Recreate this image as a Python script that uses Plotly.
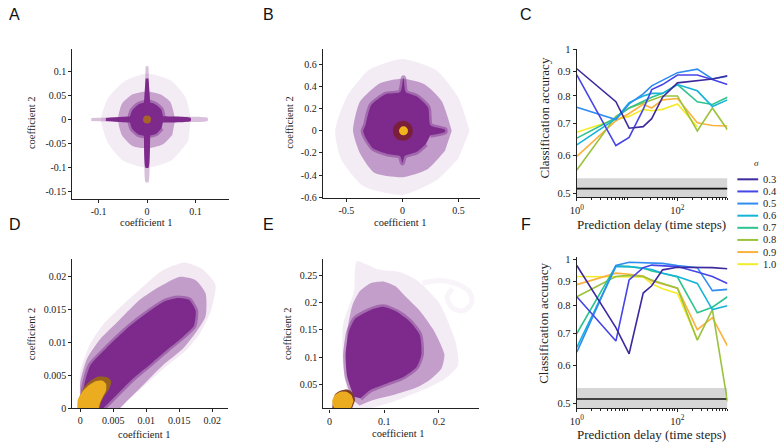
import plotly.graph_objects as go

W, H = 777, 448

# ---------------- data: classification accuracy panels (C, F) ----------------
delays = [1, 6, 11, 21, 31, 51, 101, 251, 501, 1000]
sigma_labels = ["0.3", "0.4", "0.5", "0.6", "0.7", "0.8", "0.9", "1.0"]
sigma_colors = ["#3d2a9e", "#4646e8", "#2f8cf2", "#14b4d8", "#2ec38f", "#9bc23c", "#fbb23c", "#f3ec2a"]

c_s03 = [0.912, 0.778, 0.685, 0.690, 0.717, 0.795, 0.852, 0.860, 0.868, 0.882]
c_s04 = [0.885, 0.630, 0.655, 0.750, 0.825, 0.845, 0.885, 0.885, 0.866, 0.845]
c_s05 = [0.758, 0.714, 0.770, 0.808, 0.840, 0.862, 0.895, 0.910, 0.868, 0.880]
c_s06 = [0.632, 0.717, 0.775, 0.800, 0.810, 0.810, 0.845, 0.820, 0.760, 0.785]
c_s07 = [0.653, 0.720, 0.755, 0.780, 0.795, 0.810, 0.845, 0.778, 0.768, 0.795]
c_s08 = [0.560, 0.725, 0.755, 0.775, 0.785, 0.800, 0.800, 0.676, 0.755, 0.680]
c_s09 = [0.598, 0.710, 0.735, 0.768, 0.755, 0.785, 0.790, 0.703, 0.694, 0.692]
c_s10 = [0.672, 0.714, 0.725, 0.750, 0.745, 0.750, 0.770, 0.690, None, None]

f_s03 = [0.970, 0.720, 0.635, 0.850, 0.880, 0.950, 0.962, 0.962, 0.960, 0.955]
f_s04 = [0.835, 0.675, 0.905, 0.960, 0.972, 0.970, 0.965, 0.940, 0.920, 0.890]
f_s05 = [0.640, 0.970, 0.985, 0.983, 0.982, 0.980, 0.970, 0.960, 0.860, 0.865]
f_s06 = [0.655, 0.965, 0.965, 0.958, 0.952, 0.935, 0.920, 0.890, 0.785, 0.800]
f_s07 = [0.700, 0.968, 0.965, 0.958, 0.945, 0.935, 0.918, 0.773, 0.794, 0.835]
f_s08 = [0.835, 0.920, 0.925, 0.920, 0.905, 0.890, 0.870, 0.678, 0.785, 0.505]
f_s09 = [0.885, 0.935, 0.930, 0.922, 0.900, 0.888, 0.870, 0.713, 0.755, 0.660]
f_s10 = [0.920, 0.920, 0.918, 0.918, 0.888, 0.868, 0.848, 0.680, None, None]

chance_C = 0.512
chance_band_C = [0.487, 0.538]
chance_F = 0.511
chance_band_F = [0.487, 0.539]

# ---------------- data: coefficient clouds (outlines) -------
# Panel A
A_halo_x = [0.09, 0.08, 0.05, 0.0, -0.045, -0.08, -0.095, -0.08, -0.05, 0.0, 0.05, 0.085]
A_halo_y = [0.0, 0.045, 0.08, 0.095, 0.08, 0.045, 0.0, -0.05, -0.085, -0.1, -0.085, -0.045]
A_mid_x = [0.058, 0.048, 0.027, 0.0, -0.03, -0.052, -0.06, -0.052, -0.03, 0.0, 0.032, 0.052]
A_mid_y = [0.0, 0.036, 0.052, 0.058, 0.052, 0.032, 0.0, -0.032, -0.055, -0.06, -0.052, -0.032]
A_core_x = [0.034, 0.029, 0.016, 0.0, -0.018, -0.031, -0.036, -0.031, -0.018, 0.0, 0.018, 0.03]
A_core_y = [0.0, 0.021, 0.032, 0.036, 0.031, 0.018, 0.0, -0.019, -0.031, -0.034, -0.03, -0.018]
A_harm_x = [-0.115, -0.03, 0.03, 0.125, 0.125, 0.03, -0.03, -0.115]
A_harm_y = [-0.003, -0.005, -0.005, -0.003, 0.003, 0.005, 0.005, 0.003]
A_hcore_x = [-0.085, -0.03, 0.03, 0.09, 0.09, 0.03, -0.03, -0.085]
A_hcore_y = [-0.003, -0.0065, -0.0065, -0.003, 0.003, 0.0065, 0.0065, 0.003]
A_varm_x = [-0.003, -0.005, -0.005, -0.003, 0.003, 0.005, 0.005, 0.003]
A_varm_y = [0.11, 0.03, -0.03, -0.13, -0.13, -0.03, 0.03, 0.11]
A_vcore_x = [-0.003, -0.0065, -0.0065, -0.003, 0.003, 0.0065, 0.0065, 0.003]
A_vcore_y = [0.085, 0.03, -0.03, -0.1, -0.1, -0.03, 0.03, 0.085]
A_centre = [0.0, 0.0]

# Panel B
B_halo_x = [0.6, 0.5, 0.3, 0.0, -0.3, -0.5, -0.6, -0.55, -0.35, 0.0, 0.3, 0.5]
B_halo_y = [0.0, 0.3, 0.55, 0.65, 0.55, 0.3, 0.0, -0.25, -0.5, -0.58, -0.45, -0.25]
B_mid_x = [0.44, 0.35, 0.2, 0.0, -0.2, -0.38, -0.44, -0.38, -0.25, 0.0, 0.22, 0.38]
B_mid_y = [0.0, 0.27, 0.42, 0.47, 0.43, 0.26, 0.0, -0.2, -0.38, -0.42, -0.35, -0.18]
B_core_x = [0.25, 0.38, 0.38, 0.25, 0.23, 0.13, 0.03, 0.01, -0.02, -0.15, -0.28, -0.33, -0.35,
            -0.33, -0.26, -0.13, -0.02, 0.0, 0.02, 0.13, 0.21]
B_core_y = [-0.04, -0.01, 0.01, 0.05, 0.21, 0.31, 0.35, 0.48, 0.35, 0.33, 0.23, 0.05, 0.0,
            -0.06, -0.16, -0.21, -0.23, -0.29, -0.23, -0.19, -0.12]
B_outer_centre = [0.005, 0.0]
B_inner_centre = [0.01, 0.0]

# Panel D
D_halo_x = [0.0, 0.0, 0.0015, 0.0035, 0.0065, 0.0095, 0.0125, 0.0158, 0.0185, 0.0205, 0.0198,
            0.0182, 0.016, 0.0128, 0.0098, 0.0072, 0.0062]
D_halo_y = [0.0, 0.0055, 0.0098, 0.0128, 0.0158, 0.0185, 0.021, 0.0222, 0.0212, 0.0188, 0.0148,
            0.0115, 0.0088, 0.0062, 0.0035, 0.0012, 0.0]
D_mid_x = [0.0, 0.0, 0.001, 0.003, 0.006, 0.009, 0.012, 0.015, 0.0175, 0.019, 0.019, 0.0175,
           0.0155, 0.0125, 0.0095, 0.007, 0.006]
D_mid_y = [0.0, 0.004, 0.0075, 0.0105, 0.0135, 0.0165, 0.0185, 0.02, 0.0195, 0.0175, 0.014,
           0.0115, 0.009, 0.0065, 0.0035, 0.001, 0.0]
D_core_x = [0.0005, 0.0005, 0.0015, 0.004, 0.0075, 0.0105, 0.0128, 0.0148, 0.0165, 0.0175,
            0.0172, 0.0155, 0.0133, 0.011, 0.008, 0.0055, 0.0035]
D_core_y = [0.0, 0.003, 0.0065, 0.0092, 0.0125, 0.0148, 0.0163, 0.0168, 0.0165, 0.0148,
            0.0125, 0.0108, 0.009, 0.007, 0.0045, 0.002, 0.0]
D_ring_x = [-0.0004, -0.0003, 0.0006, 0.0016, 0.0028, 0.0041, 0.0047, 0.0044, 0.0036, 0.0031, 0.0029]
D_ring_y = [-0.0005, 0.0012, 0.0032, 0.0042, 0.0048, 0.0047, 0.0041, 0.003, 0.0018, 0.0008, -0.0005]
D_gold_x = [-0.0004, -0.0004, 0.0003, 0.0012, 0.0023, 0.0033, 0.0039, 0.0039, 0.0033, 0.0029, 0.0027]
D_gold_y = [-0.0005, 0.0012, 0.0025, 0.0034, 0.0041, 0.0042, 0.0037, 0.0027, 0.0015, 0.0005, -0.0005]

# Panel E
E_halo_x = [0.04, 0.025, 0.025, 0.045, 0.05, 0.09, 0.13, 0.16, 0.2, 0.23, 0.235, 0.21, 0.17, 0.12, 0.07]
E_halo_y = [0.005, 0.08, 0.16, 0.22, 0.275, 0.26, 0.255, 0.24, 0.2, 0.13, 0.085, 0.06, 0.04, 0.02, 0.005]
E_mid_x = [0.045, 0.034, 0.033, 0.042, 0.055, 0.075, 0.1, 0.12, 0.14, 0.165, 0.19, 0.21, 0.205,
           0.185, 0.16, 0.12, 0.08, 0.055]
E_mid_y = [0.02, 0.09, 0.15, 0.195, 0.22, 0.235, 0.238, 0.23, 0.21, 0.185, 0.15, 0.105, 0.08,
           0.06, 0.045, 0.032, 0.022, 0.012]
E_core_x = [0.0446, 0.0325, 0.0295, 0.0355, 0.0476, 0.0747, 0.0988, 0.123, 0.147, 0.165, 0.168,
            0.159, 0.135, 0.105, 0.0747, 0.0566]
E_core_y = [0.028, 0.0637, 0.105, 0.147, 0.171, 0.186, 0.192, 0.183, 0.165, 0.141, 0.105,
            0.0815, 0.0637, 0.052, 0.040, 0.025]
E_loop_x = [0.17, 0.2, 0.23, 0.255, 0.26, 0.245, 0.225, 0.215, 0.225]
E_loop_y = [0.235, 0.24, 0.235, 0.22, 0.2, 0.185, 0.19, 0.21, 0.225]
E_ring_x = [0.047, 0.043, 0.033, 0.02, 0.01, 0.006, 0.03, 0.042]
E_ring_y = [0.022, 0.035, 0.041, 0.039, 0.032, 0.0, 0.0, 0.008]
E_gold_x = [0.044, 0.04, 0.031, 0.02, 0.01, 0.005, 0.008, 0.015, 0.03, 0.04]
E_gold_y = [0.02, 0.031, 0.037, 0.037, 0.031, 0.02, 0.008, 0.002, 0.002, 0.008]

# ---------------- style ----------------
PURPLE = "125,42,140"
SERIF = "Liberation Serif"
INK = "#222222"

fig = go.Figure()


def poly(xs, ys, color, ax, edge=None, edge_w=0):
    line = dict(width=edge_w, color=edge) if edge else dict(width=0, color=color)
    fig.add_trace(go.Scatter(x=xs, y=ys, mode="lines", fill="toself", fillcolor=color,
                             line=dict(line, shape="spline", smoothing=0.6), hoverinfo="skip",
                             showlegend=False, xaxis="x" + ax, yaxis="y" + ax))


def cloud(halo, mid, core, ax, halo_a=0.09, mid_a=0.38):
    poly(halo[0], halo[1], f"rgba({PURPLE},{halo_a})", ax)
    poly(mid[0], mid[1], f"rgba({PURPLE},{mid_a})", ax)
    poly(core[0], core[1], f"rgb({PURPLE})", ax,
         edge=f"rgba({PURPLE},0.45)", edge_w=5)


# Panel A (axes 1)
cloud((A_halo_x, A_halo_y), (A_mid_x, A_mid_y), (A_core_x, A_core_y), "")
poly(A_harm_x, A_harm_y, f"rgba({PURPLE},0.3)", "")
poly(A_varm_x, A_varm_y, f"rgba({PURPLE},0.3)", "")
poly(A_hcore_x, A_hcore_y, f"rgb({PURPLE})", "")
poly(A_vcore_x, A_vcore_y, f"rgb({PURPLE})", "")
fig.add_trace(go.Scatter(x=[A_centre[0]], y=[A_centre[1]], mode="markers",
                         marker=dict(size=8, color="#a8632a", line=dict(width=0)),
                         showlegend=False, hoverinfo="skip", xaxis="x", yaxis="y"))

# Panel B (axes 2)
cloud((B_halo_x, B_halo_y), (B_mid_x, B_mid_y), (B_core_x, B_core_y), "2", mid_a=0.42)
fig.add_trace(go.Scatter(x=[B_outer_centre[0]], y=[B_outer_centre[1]], mode="markers",
                         marker=dict(size=20, color="#7a1f3a", line=dict(width=0)),
                         showlegend=False, hoverinfo="skip", xaxis="x2", yaxis="y2"))
fig.add_trace(go.Scatter(x=[B_inner_centre[0]], y=[B_inner_centre[1]], mode="markers",
                         marker=dict(size=9, color="#f2b41c", line=dict(width=0)),
                         showlegend=False, hoverinfo="skip", xaxis="x2", yaxis="y2"))

# Panel D (axes 4)
cloud((D_halo_x, D_halo_y), (D_mid_x, D_mid_y), (D_core_x, D_core_y), "4", halo_a=0.1, mid_a=0.4)
poly(D_ring_x, D_ring_y, "rgb(150,98,30)", "4")
poly(D_gold_x, D_gold_y, "rgb(236,172,32)", "4")

# Panel E (axes 5)
cloud((E_halo_x, E_halo_y), (E_mid_x, E_mid_y), (E_core_x, E_core_y), "5", halo_a=0.09, mid_a=0.4)
fig.add_trace(go.Scatter(x=E_loop_x, y=E_loop_y, mode="lines",
                         line=dict(width=5, color=f"rgba({PURPLE},0.05)", shape="spline"),
                         showlegend=False, hoverinfo="skip", xaxis="x5", yaxis="y5"))
poly(E_ring_x, E_ring_y, "rgb(125,60,45)", "5")
poly(E_gold_x, E_gold_y, "rgb(236,172,32)", "5")

# Panels C and F: chance band + lines
for ax, chance, band, series in [
    ("3", chance_C, chance_band_C, [c_s03, c_s04, c_s05, c_s06, c_s07, c_s08, c_s09, c_s10]),
    ("6", chance_F, chance_band_F, [f_s03, f_s04, f_s05, f_s06, f_s07, f_s08, f_s09, f_s10]),
]:
    x0, x1 = delays[0], delays[-1]
    fig.add_trace(go.Scatter(x=[x0, x1, x1, x0], y=[band[0], band[0], band[1], band[1]],
                             mode="lines", fill="toself", fillcolor="#d6d6d6",
                             line=dict(width=0, color="#d6d6d6"), hoverinfo="skip",
                             showlegend=False, xaxis="x" + ax, yaxis="y" + ax))
    fig.add_trace(go.Scatter(x=[x0, x1], y=[chance, chance], mode="lines",
                             line=dict(width=1.6, color="#111111"), hoverinfo="skip",
                             showlegend=False, xaxis="x" + ax, yaxis="y" + ax))
    for vals, lab, col in reversed(list(zip(series, sigma_labels, sigma_colors))):
        fig.add_trace(go.Scatter(x=delays, y=vals, mode="lines", name=lab,
                                 line=dict(width=1.6, color=col), showlegend=False,
                                 xaxis="x" + ax, yaxis="y" + ax))

# ---------------- layout ----------------
def xd(a, b):
    return [a / W, b / W]


def yd(top, bottom):
    return [1 - bottom / H, 1 - top / H]


base = dict(showline=True, linecolor=INK, linewidth=1.3, ticks="outside", ticklen=3,
            tickwidth=1, tickcolor=INK, showgrid=False, zeroline=False,
            tickfont=dict(family=SERIF, size=10, color=INK),
            fixedrange=True, layer="above traces")
acc = dict(base, tickfont=dict(family=SERIF, size=10.5, color=INK))
log_minor = dict(ticks="outside", ticklen=2, tickcolor=INK,
                 tickvals=[2, 3, 4, 5, 6, 7, 8, 9, 10, 20, 30, 40, 50, 60, 70, 80, 90,
                           200, 300, 400, 500, 600, 700, 800, 900, 1000])

layout = dict(
    width=W, height=H, margin=dict(l=0, r=0, t=0, b=0),
    paper_bgcolor="white", plot_bgcolor="white", showlegend=False,
    xaxis=dict(base, domain=xd(66, 224), range=[-0.154, 0.169], anchor="y",
               tickvals=[-0.1, 0, 0.1], ticktext=["-0.1", "0", "0.1"]),
    yaxis=dict(base, domain=yd(45, 198), range=[-0.164, 0.146], anchor="x",
               tickvals=[-0.15, -0.1, -0.05, 0, 0.05, 0.1],
               ticktext=["-0.15", "-0.1", "-0.05", "0", "0.05", "0.1"]),
    xaxis2=dict(base, domain=xd(318.7, 477), range=[-0.71, 0.69], anchor="y2",
                tickvals=[-0.5, 0, 0.5], ticktext=["-0.5", "0", "0.5"]),
    yaxis2=dict(base, domain=yd(45, 197), range=[-0.604, 0.74], anchor="x2",
                tickvals=[-0.6, -0.4, -0.2, 0, 0.2, 0.4, 0.6],
                ticktext=["-0.6", "-0.4", "-0.2", "0", "0.2", "0.4", "0.6"]),
    xaxis3=dict(acc, domain=xd(575, 727), type="log", range=[0, 3.0], anchor="y3",
                tickvals=[1, 100], ticktext=["10<sup>0</sup>", "10<sup>2</sup>"], minor=log_minor),
    yaxis3=dict(acc, domain=yd(45, 196.7), type="log", range=[-0.3089, 0.0013], anchor="x3",
                tickvals=[0.5, 0.6, 0.7, 0.8, 0.9, 1.0],
                ticktext=["0.5", "0.6", "0.7", "0.8", "0.9", "1"]),
    xaxis4=dict(base, domain=xd(66, 223), range=[-0.0012, 0.0224], anchor="y4",
                tickvals=[0, 0.005, 0.01, 0.015, 0.02],
                ticktext=["0", "0.005", "0.01", "0.015", "0.02"]),
    yaxis4=dict(base, domain=yd(260, 412.3), range=[0, 0.0227], anchor="x4",
                tickvals=[0, 0.005, 0.01, 0.015, 0.02],
                ticktext=["0", "0.005", "0.01", "0.015", "0.02"]),
    xaxis5=dict(base, domain=xd(319.3, 476.7), range=[-0.011, 0.274], anchor="y5",
                tickvals=[0, 0.1, 0.2], ticktext=["0", "0.1", "0.2"]),
    yaxis5=dict(base, domain=yd(260, 412.7), range=[0.0064, 0.279], anchor="x5",
                tickvals=[0.05, 0.1, 0.15, 0.2, 0.25],
                ticktext=["0.05", "0.1", "0.15", "0.2", "0.25"]),
    xaxis6=dict(acc, domain=xd(575, 727), type="log", range=[0, 3.0], anchor="y6",
                tickvals=[1, 100], ticktext=["10<sup>0</sup>", "10<sup>2</sup>"], minor=log_minor),
    yaxis6=dict(acc, domain=yd(258, 412.3), type="log", range=[-0.3104, 0.004], anchor="x6",
                tickvals=[0.5, 0.6, 0.7, 0.8, 0.9, 1.0],
                ticktext=["0.5", "0.6", "0.7", "0.8", "0.9", "1"]),
)
fig.update_layout(**layout)

annotations = []
shapes = []


def txt(text, px, py, size=10.5, angle=0, family=SERIF, xanchor="center", color=INK):
    annotations.append(dict(text=text, x=px / W, y=1 - py / H, xref="paper", yref="paper",
                            showarrow=False, textangle=angle, xanchor=xanchor, yanchor="middle",
                            font=dict(family=family, size=size, color=color)))


# panel letters
for letter, px, py in [("A", 8, 10), ("B", 264, 10), ("C", 524, 10),
                       ("D", 8, 224), ("E", 264, 224), ("F", 524, 224)]:
    txt(letter, px, py, size=16, family="Liberation Sans", color="#111111")

# axis titles
txt("coefficient 1", 141, 222)
txt("coefficient 2", 25, 120, angle=-90)
txt("coefficient 1", 397, 222)
txt("coefficient 2", 285, 120, angle=-90)
txt("Prediction delay (time steps)", 650, 224, size=13)
txt("Classification accuracy", 542, 116, angle=-90, size=13)
txt("coefficient 1", 139, 439)
txt("coefficient 2", 25, 336, angle=-90)
txt("coefficient 1", 395, 438)
txt("coefficient 2", 283, 336, angle=-90)
txt("Prediction delay (time steps)", 650, 439, size=13)
txt("Classification accuracy", 542, 326, angle=-90, size=13)

# sigma legend
txt("<i>σ</i>", 756, 162, size=9)
leg_top, leg_step = 178.3, 12.4
for i, (lab, col) in enumerate(zip(sigma_labels, sigma_colors)):
    yy = 1 - (leg_top + leg_step * i) / H
    shapes.append(dict(type="line", xref="paper", yref="paper", x0=737 / W, x1=758 / W,
                       y0=yy, y1=yy, line=dict(color=col, width=2)))
    txt(lab, 761, leg_top + leg_step * i, size=10.5, xanchor="left")

fig.update_layout(annotations=annotations, shapes=shapes)
fig.write_html("out.html")
